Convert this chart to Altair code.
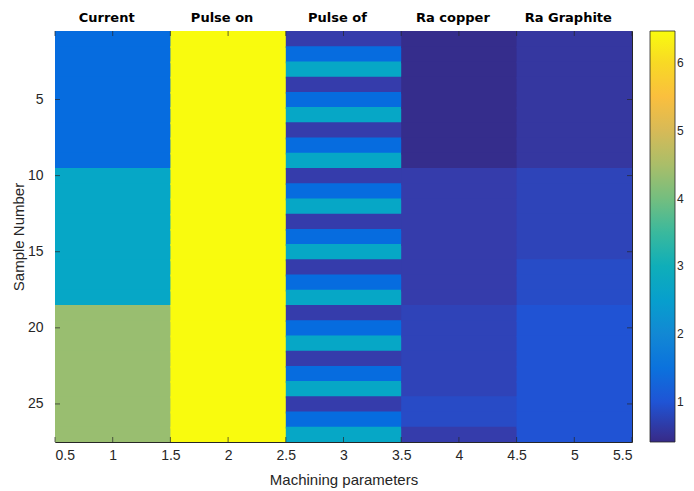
import altair as alt
import pandas as pd

# ---- data ----
samples = list(range(1, 28))
params = ["Current", "Pulse on", "Pulse of", "Ra copper", "Ra Graphite"]

current = [1.37, 1.37, 1.37, 1.37, 1.37, 1.37, 1.37, 1.37, 1.37,
           2.72, 2.72, 2.72, 2.72, 2.72, 2.72, 2.72, 2.72, 2.72,
           4.33, 4.33, 4.33, 4.33, 4.33, 4.33, 4.33, 4.33, 4.33]
pulse_on = [6.47, 6.47, 6.47, 6.47, 6.47, 6.47, 6.47, 6.47, 6.47,
            6.47, 6.47, 6.47, 6.47, 6.47, 6.47, 6.47, 6.47, 6.47,
            6.47, 6.47, 6.47, 6.47, 6.47, 6.47, 6.47, 6.47, 6.47]
pulse_off = [0.68, 1.37, 2.72, 0.68, 1.37, 2.72, 0.68, 1.37, 2.72,
             0.68, 1.37, 2.72, 0.68, 1.37, 2.72, 0.68, 1.37, 2.72,
             0.68, 1.37, 2.72, 0.68, 1.37, 2.72, 0.68, 1.37, 2.72]
ra_copper = [0.45, 0.45, 0.45, 0.45, 0.45, 0.45, 0.45, 0.45, 0.45,
             0.68, 0.68, 0.68, 0.68, 0.68, 0.68, 0.68, 0.68, 0.68,
             0.78, 0.78, 0.78, 0.78, 0.78, 0.78, 0.88, 0.88, 0.68]
ra_graphite = [0.60, 0.60, 0.60, 0.60, 0.60, 0.60, 0.60, 0.60, 0.60,
               0.79, 0.79, 0.79, 0.79, 0.79, 0.79, 0.89, 0.89, 0.89,
               0.99, 0.99, 0.99, 0.99, 0.99, 0.99, 0.99, 0.99, 0.99]

x_ticks = [0.5, 1, 1.5, 2, 2.5, 3, 3.5, 4, 4.5, 5, 5.5]
y_ticks = [5, 10, 15, 20, 25]
cbar_ticks = [1, 2, 3, 4, 5, 6]
color_limits = [0.41, 6.47]

# parula colormap (every third entry of the 64-colour map)
parula = ["#352a87", "#353dad", "#2053d4", "#0268e1", "#0d75dc", "#1481d6",
          "#108ed2", "#079ccf", "#06a7c6", "#0faeb9", "#25b5a9", "#42bb98",
          "#65be86", "#87bf77", "#a5be6b", "#c0bc60", "#d9ba56", "#f1b94a",
          "#ffc337", "#fad32a", "#f5e41d", "#f9fb0e"]

series = [current, pulse_on, pulse_off, ra_copper, ra_graphite]
rows = []
for ci, vals in enumerate(series):
    for r, v in zip(samples, vals):
        rows.append({"col": ci + 1, "row": r, "value": v})
df = pd.DataFrame(rows)

W, H = 577, 411
INK = "#262626"
FONT = "Liberation Sans"

xscale = alt.Scale(domain=[0.5, 5.5], nice=False, zero=False)
yscale = alt.Scale(domain=[0.5, 27.5], reverse=True, nice=False, zero=False)
cscale = alt.Scale(domain=color_limits, range=parula, interpolate="rgb")

xaxis = alt.Axis(values=x_ticks, title="Machining parameters",
                 labelExpr="'' + datum.value", labelPadding=6, titlePadding=10)
yaxis = alt.Axis(values=y_ticks, title="Sample Number",
                 labelPadding=12, titlePadding=1)

heat = alt.Chart(df).transform_calculate(
    x0="datum.col - 0.5", x1="datum.col + 0.53",
    y0="datum.row - 0.5", y1="datum.row + 0.62",
).mark_rect(clip=True).encode(
    x=alt.X("x0:Q", scale=xscale, axis=xaxis),
    x2="x1:Q",
    y=alt.Y("y0:Q", scale=yscale, axis=yaxis),
    y2="y1:Q",
    color=alt.Color("value:Q", scale=cscale,
                    legend=alt.Legend(title=None, values=cbar_ticks,
                                      gradientLength=H, gradientThickness=25,
                                      offset=18, padding=0, labelFontSize=12,
                                      labelOffset=2, labelColor=INK,
                                      labelFont=FONT,
                                      gradientStrokeColor=INK,
                                      gradientStrokeWidth=0.8,
                                      direction="vertical", orient="right")),
)

xt = pd.DataFrame({"v": x_ticks})
yt = pd.DataFrame({"v": y_ticks})
tick_style = dict(color=INK, thickness=1, size=5)

top_ticks = alt.Chart(xt).mark_tick(**tick_style).encode(
    x=alt.X("v:Q", scale=xscale, axis=xaxis), y=alt.value(2.5))
bot_ticks = alt.Chart(xt).mark_tick(**tick_style).encode(
    x=alt.X("v:Q", scale=xscale, axis=xaxis), y=alt.value(H - 2.5))
left_ticks = alt.Chart(yt).mark_tick(**tick_style).encode(
    y=alt.Y("v:Q", scale=yscale, axis=yaxis), x=alt.value(2.5))
right_ticks = alt.Chart(yt).mark_tick(**tick_style).encode(
    y=alt.Y("v:Q", scale=yscale, axis=yaxis), x=alt.value(W - 2.5))

labels = alt.Chart(pd.DataFrame({"col": [1, 2, 3, 4, 5], "name": params})).mark_text(
    font="DejaVu Sans", fontWeight="bold", fontSize=13, dx=-6, color="black"
).encode(
    x=alt.X("col:Q", scale=xscale, axis=xaxis),
    y=alt.value(-13),
    text="name:N",
)

chart = alt.layer(heat, top_ticks, bot_ticks, left_ticks, right_ticks, labels).properties(
    width=W, height=H,
    autosize=alt.AutoSizeParams(type="none"),
    padding={"left": 47, "top": 23, "right": 54, "bottom": 47},
    background="white",
).configure_view(
    stroke=INK, strokeWidth=1
).configure_axis(
    domain=False, ticks=False, grid=False,
    labelFont=FONT, titleFont=FONT, labelFontSize=14, titleFontSize=15,
    labelColor=INK, titleColor=INK, titleFontWeight="normal",
)

chart.save("out.html", embed_options={"renderer": "svg", "actions": False})
